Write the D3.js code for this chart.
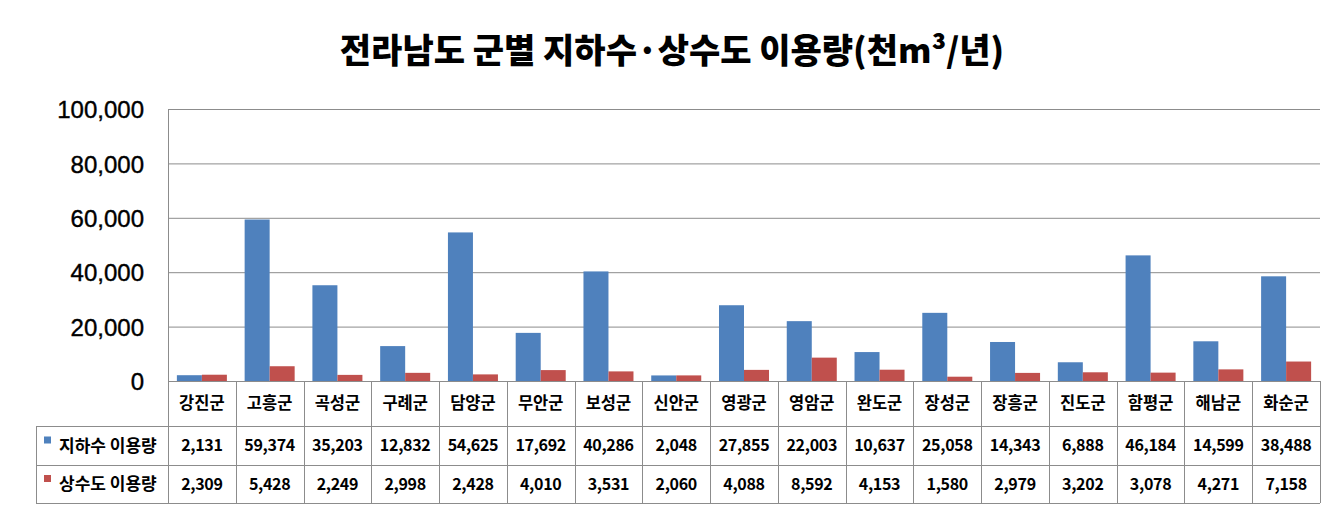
<!DOCTYPE html>
<html><head><meta charset="utf-8">
<script src="https://cdn.jsdelivr.net/npm/d3@7"></script>
<style>body{margin:0;background:#fff;} svg{display:block;}</style>
</head><body>
<svg id="c" width="1344" height="515"></svg>
<script>
const title = "전라남도 군별 지하수·상수도 이용량(천m³/년)";
const categories = ["강진군","고흥군","곡성군","구례군","담양군","무안군","보성군","신안군","영광군","영암군","완도군","장성군","장흥군","진도군","함평군","해남군","화순군"];
const seriesNames = ["지하수 이용량","상수도 이용량"];
const groundwater = [2131,59374,35203,12832,54625,17692,40286,2048,27855,22003,10637,25058,14343,6888,46184,14599,38488];
const tapwater = [2309,5428,2249,2998,2428,4010,3531,2060,4088,8592,4153,1580,2979,3202,3078,4271,7158];
const yTicks = [0,20000,40000,60000,80000,100000];
const colors = ["#4F81BD","#C0504D"];

const svg = d3.select("#c");
const L = 168, R = 1320, T = 109, B = 381;
const tableLeft = 36, row1 = 426, row2 = 465, row3 = 503;
const grid = "#8c8c8c";
const fontK = "'Noto Sans CJK KR', sans-serif";

const x = d3.scaleBand().domain(categories).range([L, R]).paddingInner(0).paddingOuter(0);
const x1 = d3.scaleBand().domain([0,1]).range([0, x.bandwidth()]).paddingInner(0).paddingOuter(0.355);
const y = d3.scaleLinear().domain([0,100000]).range([B, T]);

// title
svg.append("text").attr("x", 672).attr("y", 63).attr("text-anchor","middle")
  .attr("font-family", fontK).attr("font-weight", 900).attr("font-size", 34)
  .attr("fill","#000").text(title);

// gridlines
svg.append("g").selectAll("line").data(yTicks).join("line")
  .attr("x1", L).attr("x2", R).attr("y1", d=>y(d)+0.5).attr("y2", d=>y(d)+0.5)
  .attr("stroke", grid).attr("stroke-width", 1);
// left axis line
svg.append("line").attr("x1", L+0.5).attr("x2", L+0.5).attr("y1", T).attr("y2", B)
  .attr("stroke", grid);

// y axis labels
const yAxis = d3.axisLeft(y).tickValues(yTicks).tickSize(0).tickPadding(0).tickFormat(d3.format(","));
const ya = svg.append("g").attr("transform", `translate(${144},0)`).call(yAxis);
ya.select(".domain").remove();
ya.selectAll("text").attr("font-family","Arial, 'Liberation Sans', sans-serif")
  .attr("font-size", 24).attr("fill","#000").attr("stroke","#000").attr("stroke-width",0.4).attr("dy","0.36em");

// bars
const series = [groundwater, tapwater];
series.forEach((vals, si) => {
  svg.append("g").selectAll("rect").data(vals).join("rect")
    .attr("x", (d,i) => x(categories[i]) + x1(si))
    .attr("width", x1.bandwidth())
    .attr("y", d => y(d))
    .attr("height", d => B - y(d))
    .attr("fill", colors[si]);
});

// table lines
const tg = svg.append("g").attr("stroke", grid).attr("stroke-width", 1);
tg.append("line").attr("x1", L).attr("x2", R).attr("y1", B+0.5).attr("y2", B+0.5);
[row1, row2, row3].forEach(yy => tg.append("line").attr("x1", tableLeft).attr("x2", R).attr("y1", yy+0.5).attr("y2", yy+0.5));
const bounds = categories.map(c => x(c)).concat([R]);
tg.selectAll(".v").data(bounds).join("line")
  .attr("x1", d=>Math.round(d)+0.5).attr("x2", d=>Math.round(d)+0.5).attr("y1", B).attr("y2", row3);
tg.append("line").attr("x1", tableLeft+0.5).attr("x2", tableLeft+0.5).attr("y1", row1).attr("y2", row3);

// category labels
svg.append("g").selectAll("text").data(categories).join("text")
  .attr("x", d => x(d) + x.bandwidth()/2).attr("y", (B+row1)/2)
  .attr("dy","0.36em").attr("text-anchor","middle")
  .attr("font-family", fontK).attr("font-weight",700).attr("font-size",16.5)
  .attr("fill","#000").text(d=>d);

// value rows
const rowsY = [(row1+row2)/2, (row2+row3)/2];
const fmt = d3.format(",");
series.forEach((vals, si) => {
  svg.append("g").selectAll("text").data(vals).join("text")
    .attr("x", (d,i) => x(categories[i]) + x.bandwidth()/2).attr("y", rowsY[si])
    .attr("dy","0.36em").attr("text-anchor","middle")
    .attr("font-family", fontK).attr("font-weight",700).attr("font-size",16)
    .attr("letter-spacing", -0.3)
    .attr("fill","#000").text(d=>fmt(d));
  svg.append("rect").attr("x", 44).attr("y", rowsY[si]-9).attr("width", 7).attr("height", 7).attr("fill", colors[si]);
  svg.append("text").attr("x", 59).attr("y", rowsY[si]).attr("dy","0.36em")
    .attr("font-family", fontK).attr("font-weight",700).attr("font-size",17)
    .attr("fill","#000").text(seriesNames[si]);
});
</script>
</body></html>
